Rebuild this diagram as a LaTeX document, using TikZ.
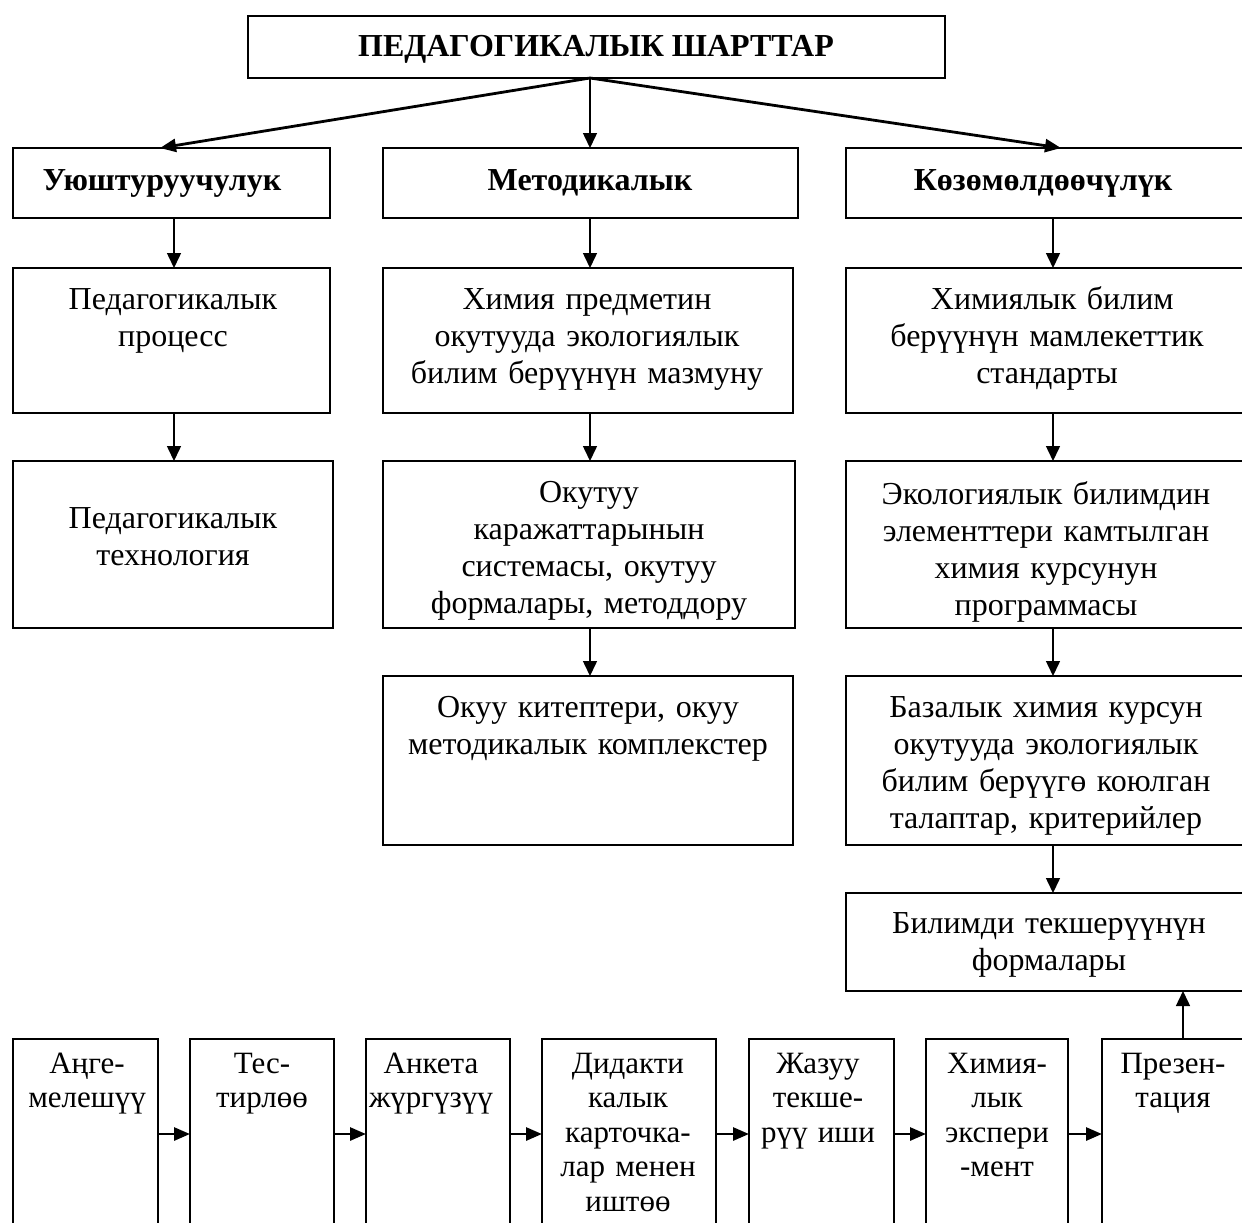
\documentclass[tikz,border=0pt]{standalone}
\usepackage{fontspec}
\setmainfont{Liberation Serif}
\usetikzlibrary{arrows.meta,fit}
\tikzset{
  box/.style={draw, line width=0.9pt, inner sep=0pt, outer sep=0pt},
  txt/.style={font=\fontsize{16}{18.5}\selectfont, align=center, anchor=base, inner sep=0pt, text width=220pt},
  stxt/.style={txt, font=\fontsize{15.5}{17.3}\selectfont},
  btxt/.style={font=\fontsize{16}{18.5}\selectfont\bfseries, align=center, anchor=base, inner sep=0pt},
  arr/.style={line width=0.75pt, -{Triangle[length=7.5pt,width=7pt]}},
  tarr/.style={line width=1.4pt, -{Triangle[length=8pt,width=6.5pt]}},
}
\begin{document}
\begin{tikzpicture}[x=0.5pt,y=-0.5pt]
\clip (0,0) rectangle (1242,1222);
\useasboundingbox (0,0) rectangle (1242,1222);
% top
\node[box, fit={(248,16) (945,78)}] (top) {};
\node[btxt] (ttop) at (596,56) {ПЕДАГОГИКАЛЫК ШАРТТАР};
% row 1
\node[box, fit={(13,148) (330,218)}] (aL) {};
\node[box, fit={(383,148) (798,218)}] (aC) {};
\node[box, fit={(846,148) (1252,218)}] (aR) {};
\node[btxt] (taL) at (162,190) {Уюштуруучулук};
\node[btxt] (taC) at (590,190) {Методикалык};
\node[btxt] (taR) at (1043,190) {Көзөмөлдөөчүлүк};
% row 2
\node[box, fit={(13,268) (330,413)}] (bL) {};
\node[box, fit={(383,268) (793,413)}] (bC) {};
\node[box, fit={(846,268) (1252,413)}] (bR) {};
\node[txt] (tbL) at (173,309) {Педагогикалык\\процесс};
\node[txt] (tbC) at (587,309) {Химия предметин\\окутууда экологиялык\\билим берүүнүн мазмуну};
\node[txt] (tbR) at (1047,309) {\ Химиялык билим\\берүүнүн мамлекеттик\\стандарты};
% row 3
\node[box, fit={(13,461) (333,628)}] (cL) {};
\node[box, fit={(383,461) (795,628)}] (cC) {};
\node[box, fit={(846,461) (1252,628)}] (cR) {};
\node[txt] (tcL) at (173,528) {Педагогикалык\\технология};
\node[txt] (tcC) at (589,502) {Окутуу\\каражаттарынын\\системасы, окутуу\\формалары, методдору};
\node[txt] (tcR) at (1046,504) {Экологиялык билимдин\\элементтери камтылган\\химия курсунун\\программасы};
% row 4
\node[box, fit={(383,676) (793,845)}] (dC) {};
\node[box, fit={(846,676) (1252,845)}] (dR) {};
\node[txt] (tdC) at (588,717) {Окуу китептери, окуу\\методикалык комплекстер};
\node[txt] (tdR) at (1046,717) {Базалык химия курсун\\окутууда экологиялык\\билим берүүгө коюлган\\талаптар, критерийлер};
% row 5
\node[box, fit={(846,893) (1252,991)}] (eR) {};
\node[txt] (teR) at (1049,933) {Билимди текшерүүнүн\\формалары};
% bottom row
\node[box, fit={(13,1039) (158,1240)}] (f1) {};
\node[box, fit={(190,1039) (334,1240)}] (f2) {};
\node[box, fit={(366,1039) (510,1240)}] (f3) {};
\node[box, fit={(542,1039) (716,1240)}] (f4) {};
\node[box, fit={(749,1039) (894,1240)}] (f5) {};
\node[box, fit={(926,1039) (1068,1240)}] (f6) {};
\node[box, fit={(1102,1039) (1252,1240)}] (f7) {};
\node[stxt] (tf1) at (87,1073) {Аңге-\\мелешүү};
\node[stxt] (tf2) at (262,1073) {Тес-\\тирлөө};
\node[stxt] (tf3) at (431,1073) {Анкета\\жүргүзүү};
\node[stxt] (tf4) at (628,1073) {Дидакти\\калык\\карточка-\\лар менен\\иштөө};
\node[stxt] (tf5) at (818,1073) {Жазуу\\текше-\\рүү иши};
\node[stxt] (tf6) at (997,1073) {Химия-\\лык\\экспери\\-мент};
\node[stxt] (tf7) at (1173,1073) {Презен-\\тация};
% connectors
\coordinate (o) at (590,78);
\coordinate (xL) at (174,0);
\coordinate (xC) at (590,0);
\coordinate (xR) at (1053,0);
\coordinate (dl) at (160,0);
\coordinate (dr) at (1061,0);
\coordinate (xP) at (1183,0);
\coordinate (yb) at (0,1134);
\draw[tarr] (o) -- (dl |- aL.north);
\draw[arr] (o) -- (xC |- aC.north);
\draw[tarr] (o) -- (dr |- aR.north);
\draw[arr] (xL |- aL.south) -- (xL |- bL.north);
\draw[arr] (xL |- bL.south) -- (xL |- cL.north);
\draw[arr] (xC |- aC.south) -- (xC |- bC.north);
\draw[arr] (xC |- bC.south) -- (xC |- cC.north);
\draw[arr] (xC |- cC.south) -- (xC |- dC.north);
\draw[arr] (xR |- aR.south) -- (xR |- bR.north);
\draw[arr] (xR |- bR.south) -- (xR |- cR.north);
\draw[arr] (xR |- cR.south) -- (xR |- dR.north);
\draw[arr] (xR |- dR.south) -- (xR |- eR.north);
\draw[arr] (xP |- f7.north) -- (xP |- eR.south);
\draw[tarr] (f1.east |- yb) -- (f2.west |- yb);
\draw[tarr] (f2.east |- yb) -- (f3.west |- yb);
\draw[tarr] (f3.east |- yb) -- (f4.west |- yb);
\draw[tarr] (f4.east |- yb) -- (f5.west |- yb);
\draw[tarr] (f5.east |- yb) -- (f6.west |- yb);
\draw[tarr] (f6.east |- yb) -- (f7.west |- yb);
\end{tikzpicture}
\end{document}
